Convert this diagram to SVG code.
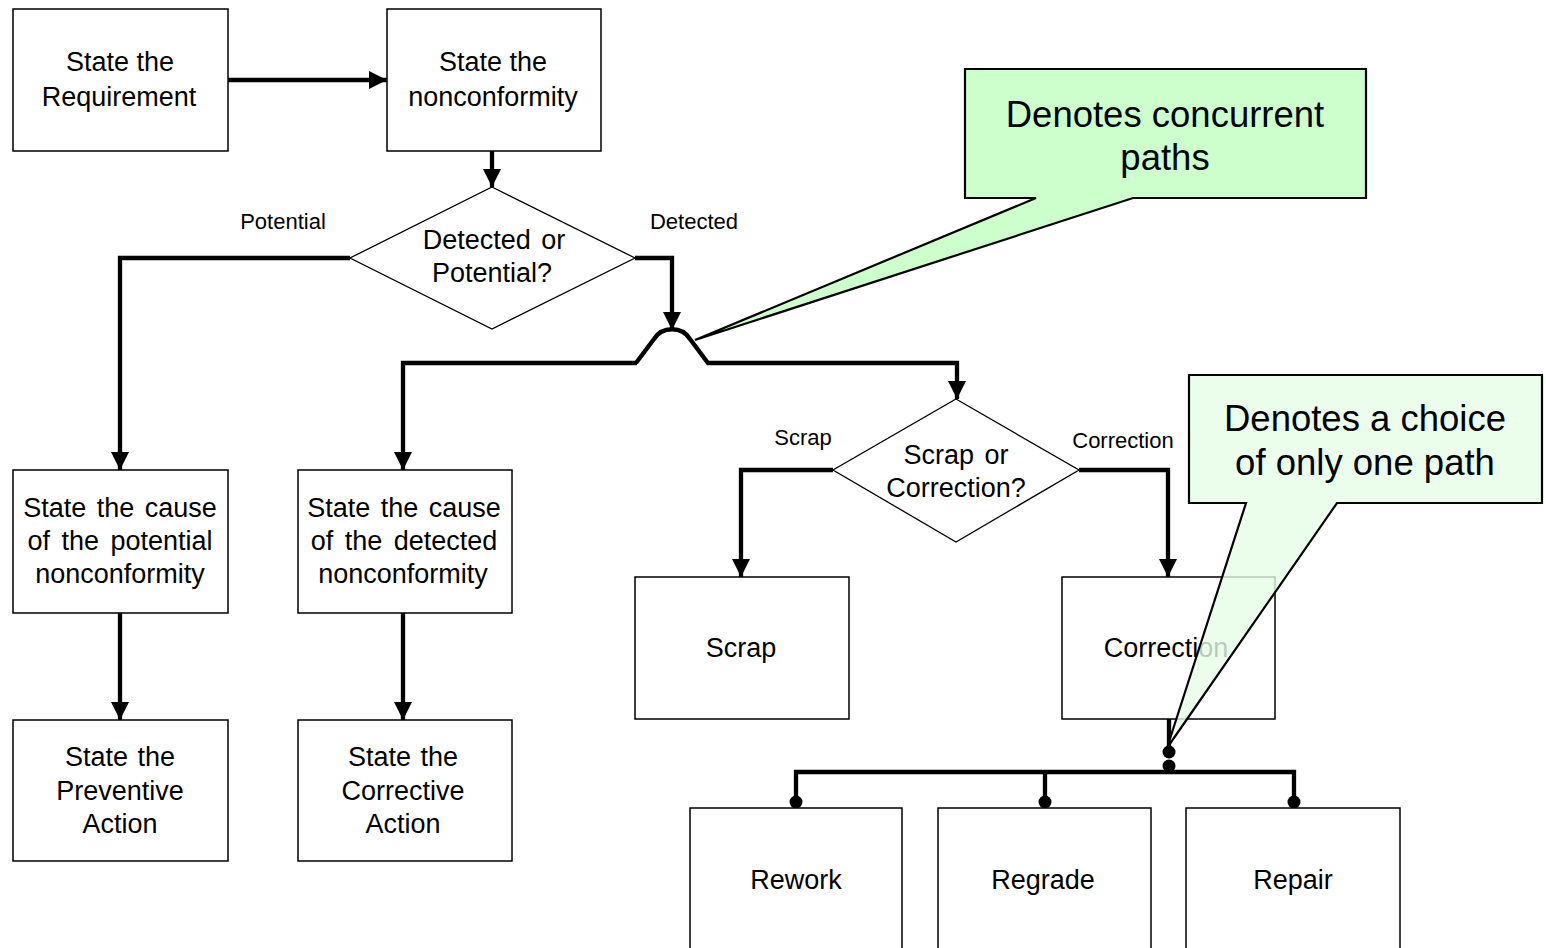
<svg xmlns="http://www.w3.org/2000/svg" width="1546" height="948" viewBox="0 0 1546 948">
  <style>
    .box { fill: #ffffff; stroke: #000000; stroke-width: 1.5; }
    .dia { fill: #ffffff; stroke: #000000; stroke-width: 1.3; }
    .t { font-family: "Liberation Sans", Arial, sans-serif; font-size: 27px; fill: #000000; text-anchor: middle; }
    .lbl { font-family: "Liberation Sans", Arial, sans-serif; font-size: 22px; fill: #000000; text-anchor: middle; }
    .big { font-family: "Liberation Sans", Arial, sans-serif; font-size: 36.5px; fill: #000000; text-anchor: middle; }
    .wire { fill: none; stroke: #000000; stroke-width: 4.3; stroke-linejoin: miter; }
    .arr { fill: none; stroke: #000000; stroke-width: 4.3; marker-end: url(#head); }
    .callout { stroke: #000000; stroke-width: 2.2; stroke-linejoin: miter; }
  </style>
  <defs>
    <marker id="head" markerUnits="userSpaceOnUse" markerWidth="20" markerHeight="20" refX="18" refY="9" orient="auto">
      <path d="M0,0 L18,9 L0,18 Z" fill="#000000"/>
    </marker>
  </defs>

  <rect width="1546" height="948" fill="#ffffff"/>

  <!-- connectors -->
  <g id="connectors">
    <path class="arr" d="M228,80 H387"/>
    <path class="arr" d="M492,151 V187"/>
    <path class="arr" d="M350,258 H120 V470"/>
    <path class="arr" d="M635,258 H672 V330"/>
    <path class="arr" d="M637,363 H403 V470"/>
    <path class="arr" d="M636,363 L654,339 C662,326 682,326 690,339 L708,363 H957 V399"/>
    <path class="arr" d="M833,470 H741 V577"/>
    <path class="arr" d="M1079,470 H1168 V577"/>
    <path class="arr" d="M120,613 V720"/>
    <path class="arr" d="M403,613 V720"/>
    <path class="wire" d="M1169,719 V752"/>
    <path class="wire" d="M796,802 V772 H1294 V802"/>
    <path class="wire" d="M1045,772 V802"/>
    <circle cx="1169" cy="752" r="6.5" fill="#000000"/>
    <circle cx="1169" cy="766" r="6.5" fill="#000000"/>
    <circle cx="796" cy="802" r="6.5" fill="#000000"/>
    <circle cx="1045" cy="802" r="6.5" fill="#000000"/>
    <circle cx="1294" cy="802" r="6.5" fill="#000000"/>
    <text class="lbl" x="283" y="229">Potential</text>
    <text class="lbl" x="694" y="229">Detected</text>
    <text class="lbl" x="803" y="445">Scrap</text>
    <text class="lbl" x="1123" y="448">Correction</text>
  </g>

  <g id="requirement">
    <rect class="box" x="13" y="9" width="215" height="142"/>
    <text class="t" x="120" y="71">State the</text>
    <text class="t" x="119" y="106">Requirement</text>
  </g>

  <g id="nonconformity">
    <rect class="box" x="387" y="9" width="214" height="142"/>
    <text class="t" x="493" y="71">State the</text>
    <text class="t" x="493" y="106">nonconformity</text>
  </g>

  <g id="detected-or-potential">
    <polygon class="dia" points="492,187 635,258 492,329 350,258"/>
    <text class="t" x="494" y="249" word-spacing="3">Detected or</text>
    <text class="t" x="492" y="282">Potential?</text>
  </g>

  <g id="cause-potential">
    <rect class="box" x="13" y="470" width="215" height="143"/>
    <text class="t" x="120" y="517" word-spacing="3">State the cause</text>
    <text class="t" x="120" y="550" word-spacing="4">of the potential</text>
    <text class="t" x="120" y="583">nonconformity</text>
  </g>

  <g id="cause-detected">
    <rect class="box" x="298" y="470" width="214" height="143"/>
    <text class="t" x="404" y="517" word-spacing="3">State the cause</text>
    <text class="t" x="404" y="550" word-spacing="4">of the detected</text>
    <text class="t" x="403" y="583">nonconformity</text>
  </g>

  <g id="preventive-action">
    <rect class="box" x="13" y="720" width="215" height="141"/>
    <text class="t" x="120" y="766" word-spacing="2">State the</text>
    <text class="t" x="120" y="800">Preventive</text>
    <text class="t" x="120" y="833">Action</text>
  </g>

  <g id="corrective-action">
    <rect class="box" x="298" y="720" width="214" height="141"/>
    <text class="t" x="403" y="766" word-spacing="2">State the</text>
    <text class="t" x="403" y="800">Corrective</text>
    <text class="t" x="403" y="833">Action</text>
  </g>

  <g id="scrap-or-correction">
    <polygon class="dia" points="956,399 1079,470 956,542 833,470"/>
    <text class="t" x="956" y="464" word-spacing="3">Scrap or</text>
    <text class="t" x="956" y="497">Correction?</text>
  </g>

  <g id="scrap">
    <rect class="box" x="635" y="577" width="214" height="142"/>
    <text class="t" x="741" y="657">Scrap</text>
  </g>

  <g id="correction">
    <rect class="box" x="1062" y="577" width="213" height="142"/>
    <text class="t" x="1166" y="657">Correction</text>
  </g>

  <g id="rework">
    <rect class="box" x="690" y="808" width="212" height="160"/>
    <text class="t" x="796" y="889">Rework</text>
  </g>

  <g id="regrade">
    <rect class="box" x="938" y="808" width="213" height="160"/>
    <text class="t" x="1043" y="889">Regrade</text>
  </g>

  <g id="repair">
    <rect class="box" x="1186" y="808" width="214" height="160"/>
    <text class="t" x="1293" y="889">Repair</text>
  </g>

  <!-- callout notes -->
  <g id="note-concurrent">
    <path class="callout" fill="#ccffcc" d="M965,69 H1366 V198 H1133 L695,340 L1036,198 H965 Z"/>
    <text class="big" x="1165" y="127">Denotes concurrent</text>
    <text class="big" x="1165" y="170">paths</text>
  </g>

  <g id="note-choice">
    <path class="callout" fill="#e6fce6" fill-opacity="0.8" d="M1189,375 H1542 V503 H1337 L1167,748 L1246,503 H1189 Z"/>
    <text class="big" x="1365" y="431">Denotes a choice</text>
    <text class="big" x="1365" y="475">of only one path</text>
  </g>
</svg>
